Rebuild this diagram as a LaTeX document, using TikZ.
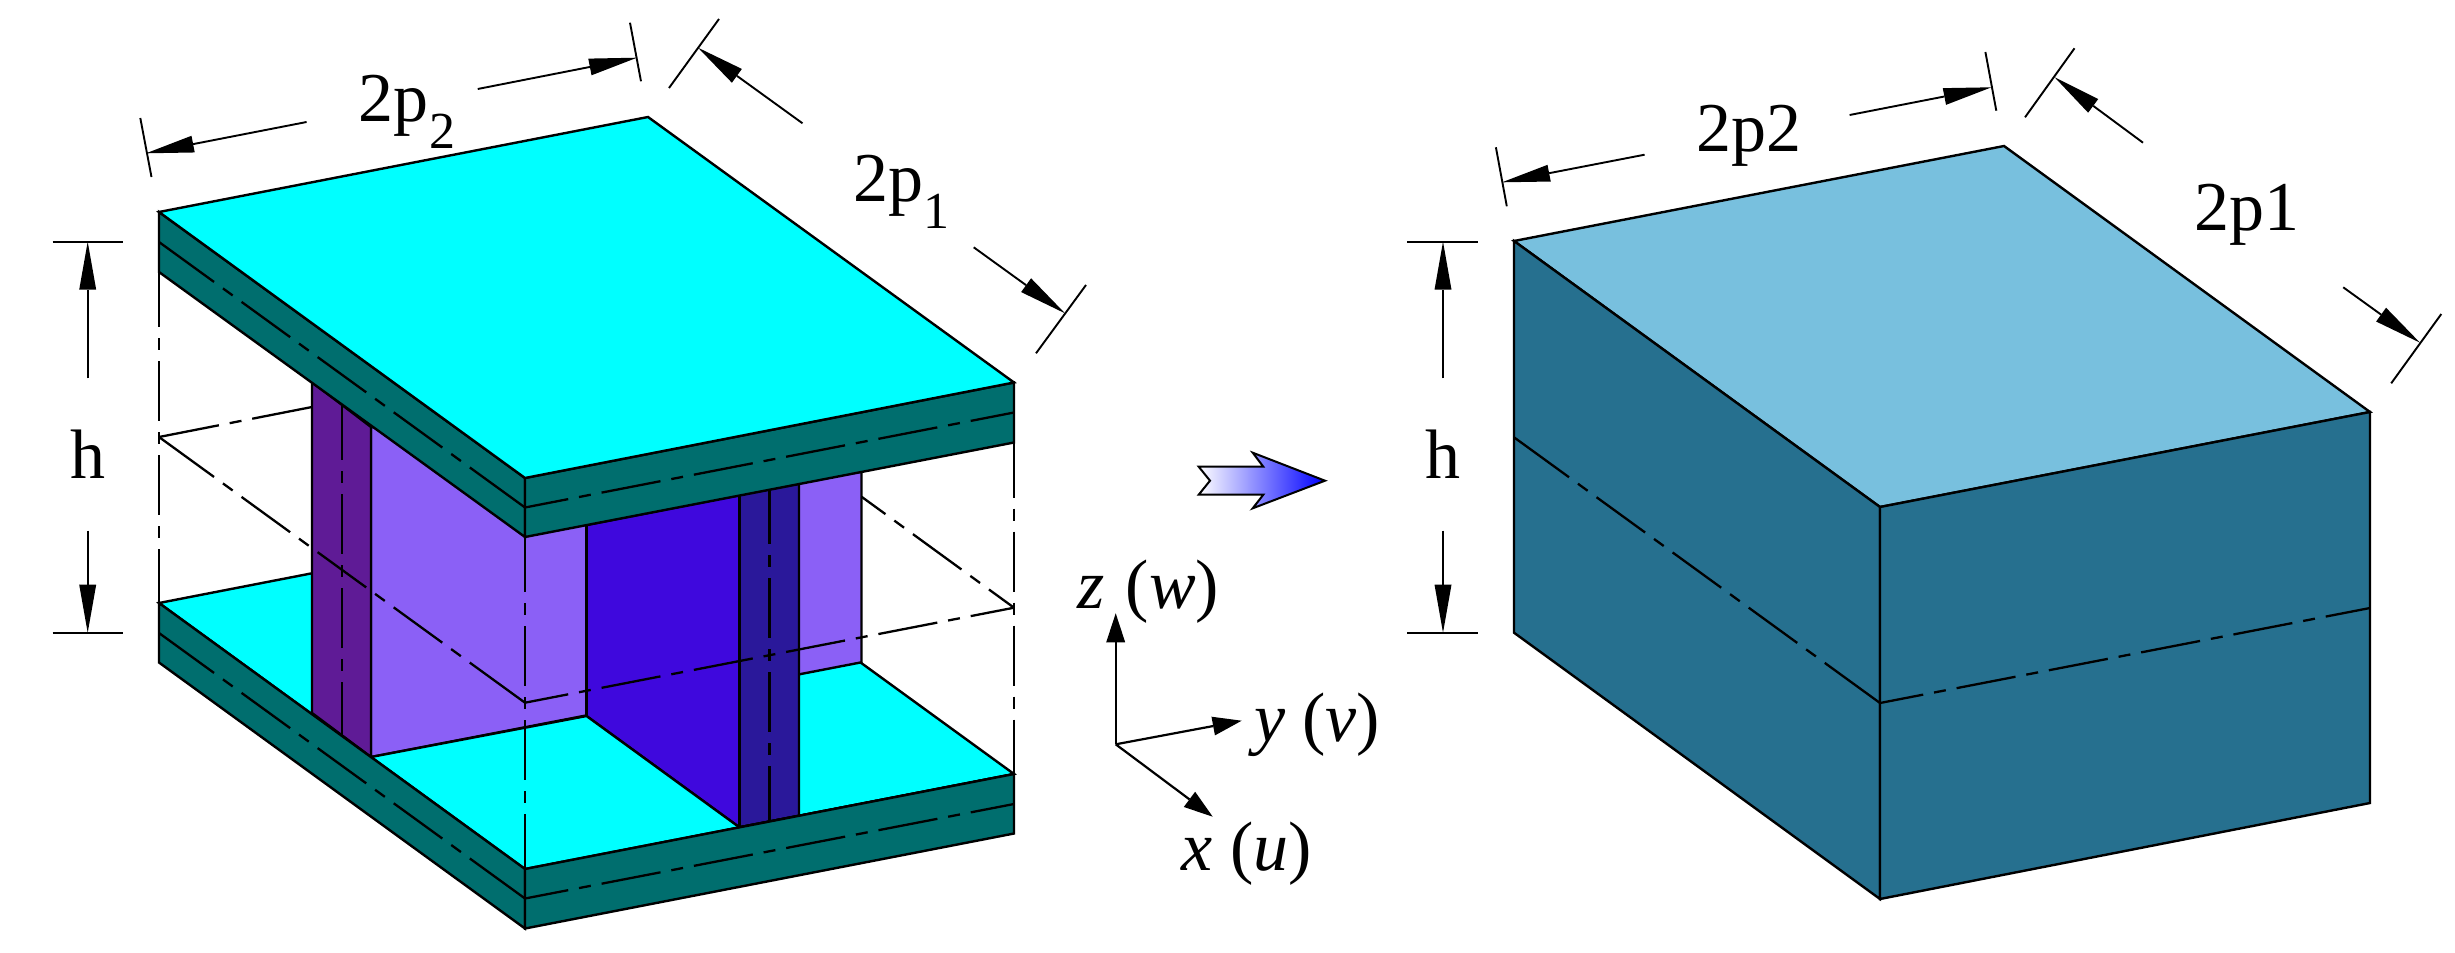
\documentclass[tikz,border=0pt]{standalone}
\usepackage{fontspec}
\setmainfont{Liberation Serif}
\usetikzlibrary{arrows.meta}
\definecolor{cya}{HTML}{00FFFF}
\definecolor{teal2}{HTML}{006E6E}
\definecolor{lpur}{HTML}{8B60F6}
\definecolor{dblue}{HTML}{3F08DD}
\definecolor{sblue}{HTML}{2A189A}
\definecolor{spur}{HTML}{5F1B96}
\definecolor{ltop}{HTML}{78C0DE}
\definecolor{lside}{HTML}{26708F}
\tikzset{
  outl/.style={draw=black,line width=2.4pt,line join=miter},
  ddf/.style={line width=2.3pt,dash pattern=on #1 off 11pt on 12pt off 11pt on 60pt off 11pt on 12pt off 11pt on 60pt off 11pt on 12pt off 11pt on 60pt off 11pt on 12pt off 11pt on 60pt off 11pt on 12pt off 11pt on 60pt off 11pt on 12pt off 11pt on 60pt},
  ddg/.style={line width=2.3pt,dash pattern=on 68pt off 11pt on 12pt off 11pt on 60pt off 11pt on 12pt off 11pt on 60pt off 11pt on 12pt off 11pt on 60pt off 11pt on 12pt off 11pt on 90pt},
  thin1/.style={line width=1.9pt},
  dimar/.style={line width=1.9pt,-{Triangle[length=48pt,width=17pt,line width=0pt]}},
  axar/.style={line width=2.2pt,-{Triangle[length=29pt,width=19pt,line width=0pt]}},
  lab/.style={anchor=base west,inner sep=0pt,outer sep=0pt,font=\fontsize{70}{70}\selectfont},
  sublab/.style={anchor=base west,inner sep=0pt,outer sep=0pt,font=\fontsize{52}{52}\selectfont},
}
\begin{document}
\begin{tikzpicture}[x=1pt,y=-1pt]
\useasboundingbox (0,0) rectangle (2455,953);
% ---- left model coordinates
\coordinate (A) at (159,212);
\coordinate (Ab) at (648,117);
\coordinate (B) at (1014,382.5);
\coordinate (C) at (525,478);
\coordinate (Am) at (159,242);
\coordinate (Ad) at (159,272);
\coordinate (Bm) at (1014,412.5);
\coordinate (Bd) at (1014,442.5);
\coordinate (Cm) at (525,507.5);
\coordinate (Cd) at (525,537);
\coordinate (E) at (159,603);
\coordinate (Em) at (159,633);
\coordinate (Ed) at (159,662.5);
\coordinate (F) at (525,869);
\coordinate (Fm) at (525,898.5);
\coordinate (Fd) at (525,928.5);
\coordinate (G) at (1014,774);
\coordinate (Gm) at (1014,804);
\coordinate (Gd) at (1014,833.5);
\coordinate (Gb) at (648,508);
% webs
\coordinate (w1b) at (312,713);
\coordinate (w1t) at (312,382);
\coordinate (w1cb) at (342,735);
\coordinate (w1ct) at (342,405);
\coordinate (w2b) at (371,757);
\coordinate (w2t) at (371,427);
\coordinate (w3b) at (586.5,716);
\coordinate (w3t) at (586.5,525);
\coordinate (w4b) at (739.4,827.3);
\coordinate (w4t) at (739.4,495);
\coordinate (w5b) at (769.6,821.5);
\coordinate (w5t) at (769.6,489);
\coordinate (w6b) at (799,815.8);
\coordinate (w6m) at (799,674);
\coordinate (w6t) at (799,483.5);
\coordinate (w7b) at (861.5,662.3);
\coordinate (w7t) at (861.5,472);
% bottom plate
\path[fill=cya,outl] (E)--(F)--(G)--(Gb)--cycle;
% webs
\path[fill=lpur,outl] (w2b)--(w7b)--(w7t)--(w2t)--cycle;
\path[fill=dblue,outl] (w3b)--(w4b)--(w4t)--(w3t)--cycle;
\path[fill=sblue,outl] (w4b)--(w6b)--(w6t)--(w4t)--cycle;
\path[fill=spur,outl] (w1b)--(w2b)--(w2t)--(w1t)--cycle;
% bottom plate again, sides
\path[fill=cya] (F)--(G)--(w6b)--(w4b)--(w3b)--(w2b)--cycle;
\draw[outl] (w2b)--(F)--(G);
\draw[outl] (w2b)--(w3b)--(w4b)--(w6b);
\draw[outl] (w4b)--(w4t) (w6b)--(w6t) (w3b)--(w3t);
\path[fill=teal2,outl] (E)--(F)--(Fd)--(Ed)--cycle;
\path[fill=teal2,outl] (F)--(G)--(Gd)--(Fd)--cycle;
\draw[ddg] (Em)--(Fm);
\draw[ddf=44pt] (Fm)--(Gm);
% web center lines
\draw[ddf=55pt] (w1ct)--(w1cb);
\draw[ddf=55pt] (w5t)--(w5b);
% vertical construction lines
\draw[ddf=55pt] (Ad)--(E);
\draw[ddf=55pt] (Cd)--(F);
\draw[ddf=55pt] (Bd)--(G);
% mid plane
\coordinate (M1) at (159,437);
\coordinate (M2) at (525,702.7);
\coordinate (M3) at (1014,607.7);
\coordinate (M1b) at (312,407);
\coordinate (M3b) at (861.5,496.7);
\draw[ddf=61pt] (M1)--(M1b);
\draw[ddf=31pt] (M3)--(M3b);
\draw[ddg] (M1)--(M2);
\draw[ddf=44pt] (M2)--(M3);
% top plate
\path[fill=teal2,outl] (A)--(C)--(Cd)--(Ad)--cycle;
\path[fill=teal2,outl] (C)--(B)--(Bd)--(Cd)--cycle;
\draw[ddg] (Am)--(Cm);
\draw[ddf=44pt] (Cm)--(Bm);
\path[fill=cya,outl] (A)--(Ab)--(B)--(C)--cycle;
% dims left
\coordinate (t1a) at (140.3,118); \coordinate (t1b) at (151.5,177);
\coordinate (t2a) at (630,22.7); \coordinate (t2b) at (641,81.3);
\draw[thin1] (t1a)--(t1b) (t2a)--(t2b);
\coordinate (d1tail) at (306.6,122); \coordinate (d1tip) at (146,153.3);
\coordinate (d2tail) at (477.7,89); \coordinate (d2tip) at (637,57.7);
\draw[dimar] (d1tail)--(d1tip);
\draw[dimar] (d2tail)--(d2tip);
\coordinate (t3a) at (719,19); \coordinate (t3b) at (669,88);
\coordinate (t4a) at (1086,285); \coordinate (t4b) at (1036,353.3);
\draw[thin1] (t3a)--(t3b) (t4a)--(t4b);
\coordinate (d3tail) at (802.5,123.3); \coordinate (d3tip) at (698,47.7);
\coordinate (d4tail) at (973.7,247.3); \coordinate (d4tip) at (1065,313.3);
\draw[dimar] (d3tail)--(d3tip);
\draw[dimar] (d4tail)--(d4tip);
\coordinate (h1a) at (52.6,241.7); \coordinate (h1b) at (122.8,241.7);
\coordinate (h2a) at (52.6,632.7); \coordinate (h2b) at (122.8,632.7);
\draw[line width=2.4pt] (h1a)--(h1b) (h2a)--(h2b);
\coordinate (h3tail) at (87.7,378.3); \coordinate (h3tip) at (87.7,241.7);
\coordinate (h4tail) at (87.7,530.7); \coordinate (h4tip) at (87.7,632.7);
\draw[dimar] (h3tail)--(h3tip);
\draw[dimar] (h4tail)--(h4tip);
\node[lab] (l2p2) at (358,121.7) {2p};
\node[sublab] (l2p2s) at (429,148) {2};
\node[lab] (l2p1) at (853,201) {2p};
\node[sublab] (l2p1s) at (923,228) {1};
\node[lab,anchor=base] (lh) at (87.7,478.3) {h};
% fat arrow
\coordinate (f1) at (1198.7,466.7); \coordinate (f2) at (1210,480.7); \coordinate (f3) at (1198.7,494.7);
\coordinate (f4) at (1263.3,494.7); \coordinate (f5) at (1252.7,508.3); \coordinate (f6) at (1325,480.7);
\coordinate (f7) at (1252.7,452.7); \coordinate (f8) at (1263.3,466.7);
\path[left color=white,right color=blue,draw=black,line width=2pt] (f1)--(f2)--(f3)--(f4)--(f5)--(f6)--(f7)--(f8)--cycle;
% axes
\coordinate (O) at (1115.7,744.3);
\coordinate (zt) at (1115.7,613.3);
\coordinate (yt) at (1241.7,720.7);
\coordinate (xt) at (1212.7,816.7);
\draw[axar] (O)--(zt);
\draw[axar] (O)--(yt);
\draw[axar] (O)--(xt);
\node[lab] (lz) at (1077,608) {\textit{z}\hspace{4pt} (\textit{w})};
\node[lab] (ly) at (1254,741.7) {\textit{y} (\textit{v})};
\node[lab] (lx) at (1181.7,870) {\textit{x} (\textit{u})};
% ---- right block
\coordinate (RA) at (1514,241);
\coordinate (RAb) at (2004,146);
\coordinate (RB) at (2370,412);
\coordinate (RC) at (1880,507);
\coordinate (RE) at (1514,632.7);
\coordinate (RF) at (1880,899);
\coordinate (RG) at (2370,803);
\path[fill=ltop,outl] (RA)--(RAb)--(RB)--(RC)--cycle;
\path[fill=lside,outl] (RA)--(RC)--(RF)--(RE)--cycle;
\path[fill=lside,outl] (RC)--(RB)--(RG)--(RF)--cycle;
\coordinate (RM1) at (1514,437.3);
\coordinate (RM2) at (1880,703);
\coordinate (RM3) at (2370,608);
\draw[ddg] (RM1)--(RM2);
\draw[ddf=44pt] (RM2)--(RM3);
\coordinate (rt1a) at (1495.9,147.3); \coordinate (rt1b) at (1506.8,206.3);
\coordinate (rt2a) at (1985.4,52); \coordinate (rt2b) at (1996.3,110.7);
\draw[thin1] (rt1a)--(rt1b) (rt2a)--(rt2b);
\coordinate (rd1tail) at (1644.6,154.7); \coordinate (rd1tip) at (1502,182.3);
\coordinate (rd2tail) at (1849.6,115); \coordinate (rd2tip) at (1991.5,87.3);
\draw[dimar] (rd1tail)--(rd1tip);
\draw[dimar] (rd2tail)--(rd2tip);
\coordinate (rt3a) at (2074.5,48.3); \coordinate (rt3b) at (2025,117.3);
\coordinate (rt4a) at (2441.3,314); \coordinate (rt4b) at (2391.2,383.3);
\draw[thin1] (rt3a)--(rt3b) (rt4a)--(rt4b);
\coordinate (rd3tail) at (2143,142.7); \coordinate (rd3tip) at (2054.6,77.3);
\coordinate (rd4tail) at (2343.2,287.3); \coordinate (rd4tip) at (2420,342.7);
\draw[dimar] (rd3tail)--(rd3tip);
\draw[dimar] (rd4tail)--(rd4tip);
\coordinate (rh1a) at (1407.4,241.7); \coordinate (rh1b) at (1478,241.7);
\coordinate (rh2a) at (1407.4,632.7); \coordinate (rh2b) at (1478,632.7);
\draw[line width=2.4pt] (rh1a)--(rh1b) (rh2a)--(rh2b);
\coordinate (rh3tail) at (1443,378.3); \coordinate (rh3tip) at (1443,241.7);
\coordinate (rh4tail) at (1443,530.7); \coordinate (rh4tip) at (1443,632.7);
\draw[dimar] (rh3tail)--(rh3tip);
\draw[dimar] (rh4tail)--(rh4tip);
\node[lab] (rl2p2) at (1696.7,151) {2p2};
\node[lab] (rl2p1) at (2194,230.7) {2p1};
\node[lab,anchor=base] (rlh) at (1443,478.3) {h};
\end{tikzpicture}
\end{document}
